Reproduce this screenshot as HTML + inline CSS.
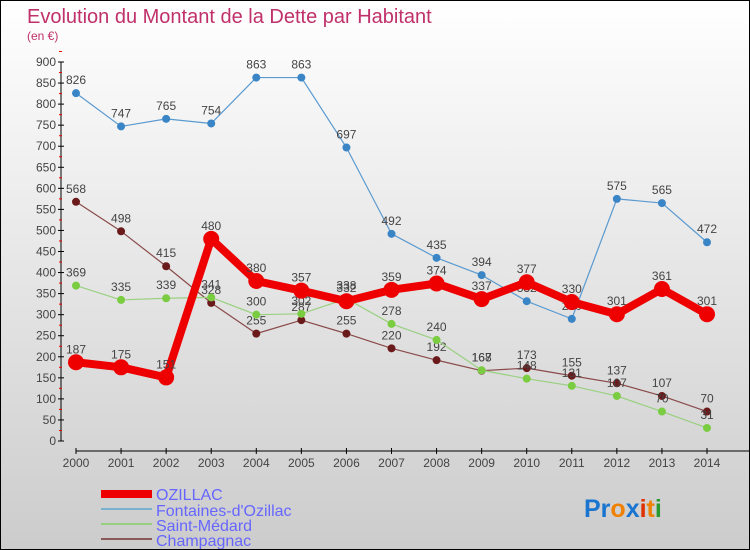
<!DOCTYPE html>
<html><head><meta charset="utf-8"><style>
body{margin:0}
#c{position:relative;width:748px;height:548px;border:1px solid #000;background:linear-gradient(#ffffff,#cccccc);overflow:hidden;font-family:"Liberation Sans",sans-serif}
svg text{font-family:"Liberation Sans",sans-serif}
</style></head><body>
<div id="c">
<svg id="s" width="748" height="548">
<text x="26" y="22" font-size="20" fill="#c0306a">Evolution du Montant de la Dette par Habitant</text>
<text x="26" y="39" font-size="12" fill="#c0306a">(en €)</text>
<g id="axes"></g><g id="series"></g>
<g>
<rect x="100" y="489" width="51" height="8" fill="#e00"/>
<text x="155" y="499" font-size="16" fill="#6666ff">OZILLAC</text>
<rect x="100" y="507" width="51" height="2" fill="#7ab0d0"/>
<text x="155" y="515" font-size="16" fill="#6666ff">Fontaines-d'Ozillac</text>
<rect x="100" y="522" width="51" height="2" fill="#99d080"/>
<text x="155" y="530" font-size="16" fill="#6666ff">Saint-Médard</text>
<rect x="100" y="537" width="51" height="2" fill="#8a5a5a"/>
<text x="155" y="545" font-size="16" fill="#6666ff">Champagnac</text>
</g>
<text x="583" y="516" font-size="25" font-weight="bold"><tspan fill="#1a75d0">Pr</tspan><tspan fill="#f08000">o</tspan><tspan fill="#1a75d0">x</tspan><tspan fill="#e03000">i</tspan><tspan fill="#f08000">t</tspan><tspan fill="#2a9a30">i</tspan></text>
</svg></div>
<script>
const years=[2000,2001,2002,2003,2004,2005,2006,2007,2008,2009,2010,2011,2012,2013,2014];
const yTicks=[0,50,100,150,200,250,300,350,400,450,500,550,600,650,700,750,800,850,900];
const ozillac=[187,175,151,480,380,357,332,359,374,337,377,330,301,361,301];
const fontaines=[826,747,765,754,863,863,697,492,435,394,332,290,575,565,472];
const saintMedard=[369,335,339,341,300,302,338,278,240,168,148,131,107,70,31];
const champagnac=[568,498,415,328,255,287,255,220,192,167,173,155,137,107,70];
const NS='http://www.w3.org/2000/svg';
const X=i=>75+i*(706-75)/(years.length-1);
const Y=v=>440-v*(440-61)/900;
function el(t,a,p){const e=document.createElementNS(NS,t);for(const k in a)e.setAttribute(k,a[k]);p.appendChild(e);return e;}
const ax=document.getElementById('axes');
let l=el('line',{x1:60,y1:61,x2:60,y2:440,stroke:'#000'},ax);


yTicks.forEach(v=>{el('line',{x1:57,x2:63,y1:Y(v),y2:Y(v),stroke:'#000'},ax);
 el('line',{x1:58,x2:61,y1:Y(v+25),y2:Y(v+25),stroke:'#e00'},ax);
 const t=el('text',{x:55,y:Y(v)+4,'font-size':12,fill:'#444','text-anchor':'end'},ax);t.textContent=v;
 
 });
l=el('line',{x1:75,y1:450,x2:748,y2:450,stroke:'#000'},ax);


years.forEach((y,i)=>{el('line',{x1:X(i),x2:X(i),y1:447,y2:453,stroke:'#000'},ax);
 const t=el('text',{x:X(i),y:466,'font-size':12,fill:'#444','text-anchor':'middle'},ax);t.textContent=y;
 
 });
const sg=document.getElementById('series');
function draw(vals,color,w,r,name,dot){
 const g=el('g',{},sg);
 
 
 el('polyline',{points:vals.map((v,i)=>X(i)+','+Y(v)).join(' '),fill:'none',stroke:color,'stroke-width':w,'stroke-linejoin':'round'},g);
 vals.forEach((v,i)=>{const c=el('circle',{cx:X(i),cy:Y(v),r:r,fill:dot||color},g);
  
  
  const t=el('text',{x:X(i),y:Y(v)-9,'font-size':12,fill:'#444','text-anchor':'middle'},g);t.textContent=v;
  
  });
}
draw(champagnac,'#8a4a4a',1.2,4,'champagnac','#6a1a1a');
draw(saintMedard,'#99d080',1.2,4,'saint-medard','#7acc40');
draw(fontaines,'#5a9ad0',1.2,4,'fontaines','#3a85c5');
draw(ozillac,'#ee0000',8,8,'ozillac','#ee0000');
</script>
</body></html>
